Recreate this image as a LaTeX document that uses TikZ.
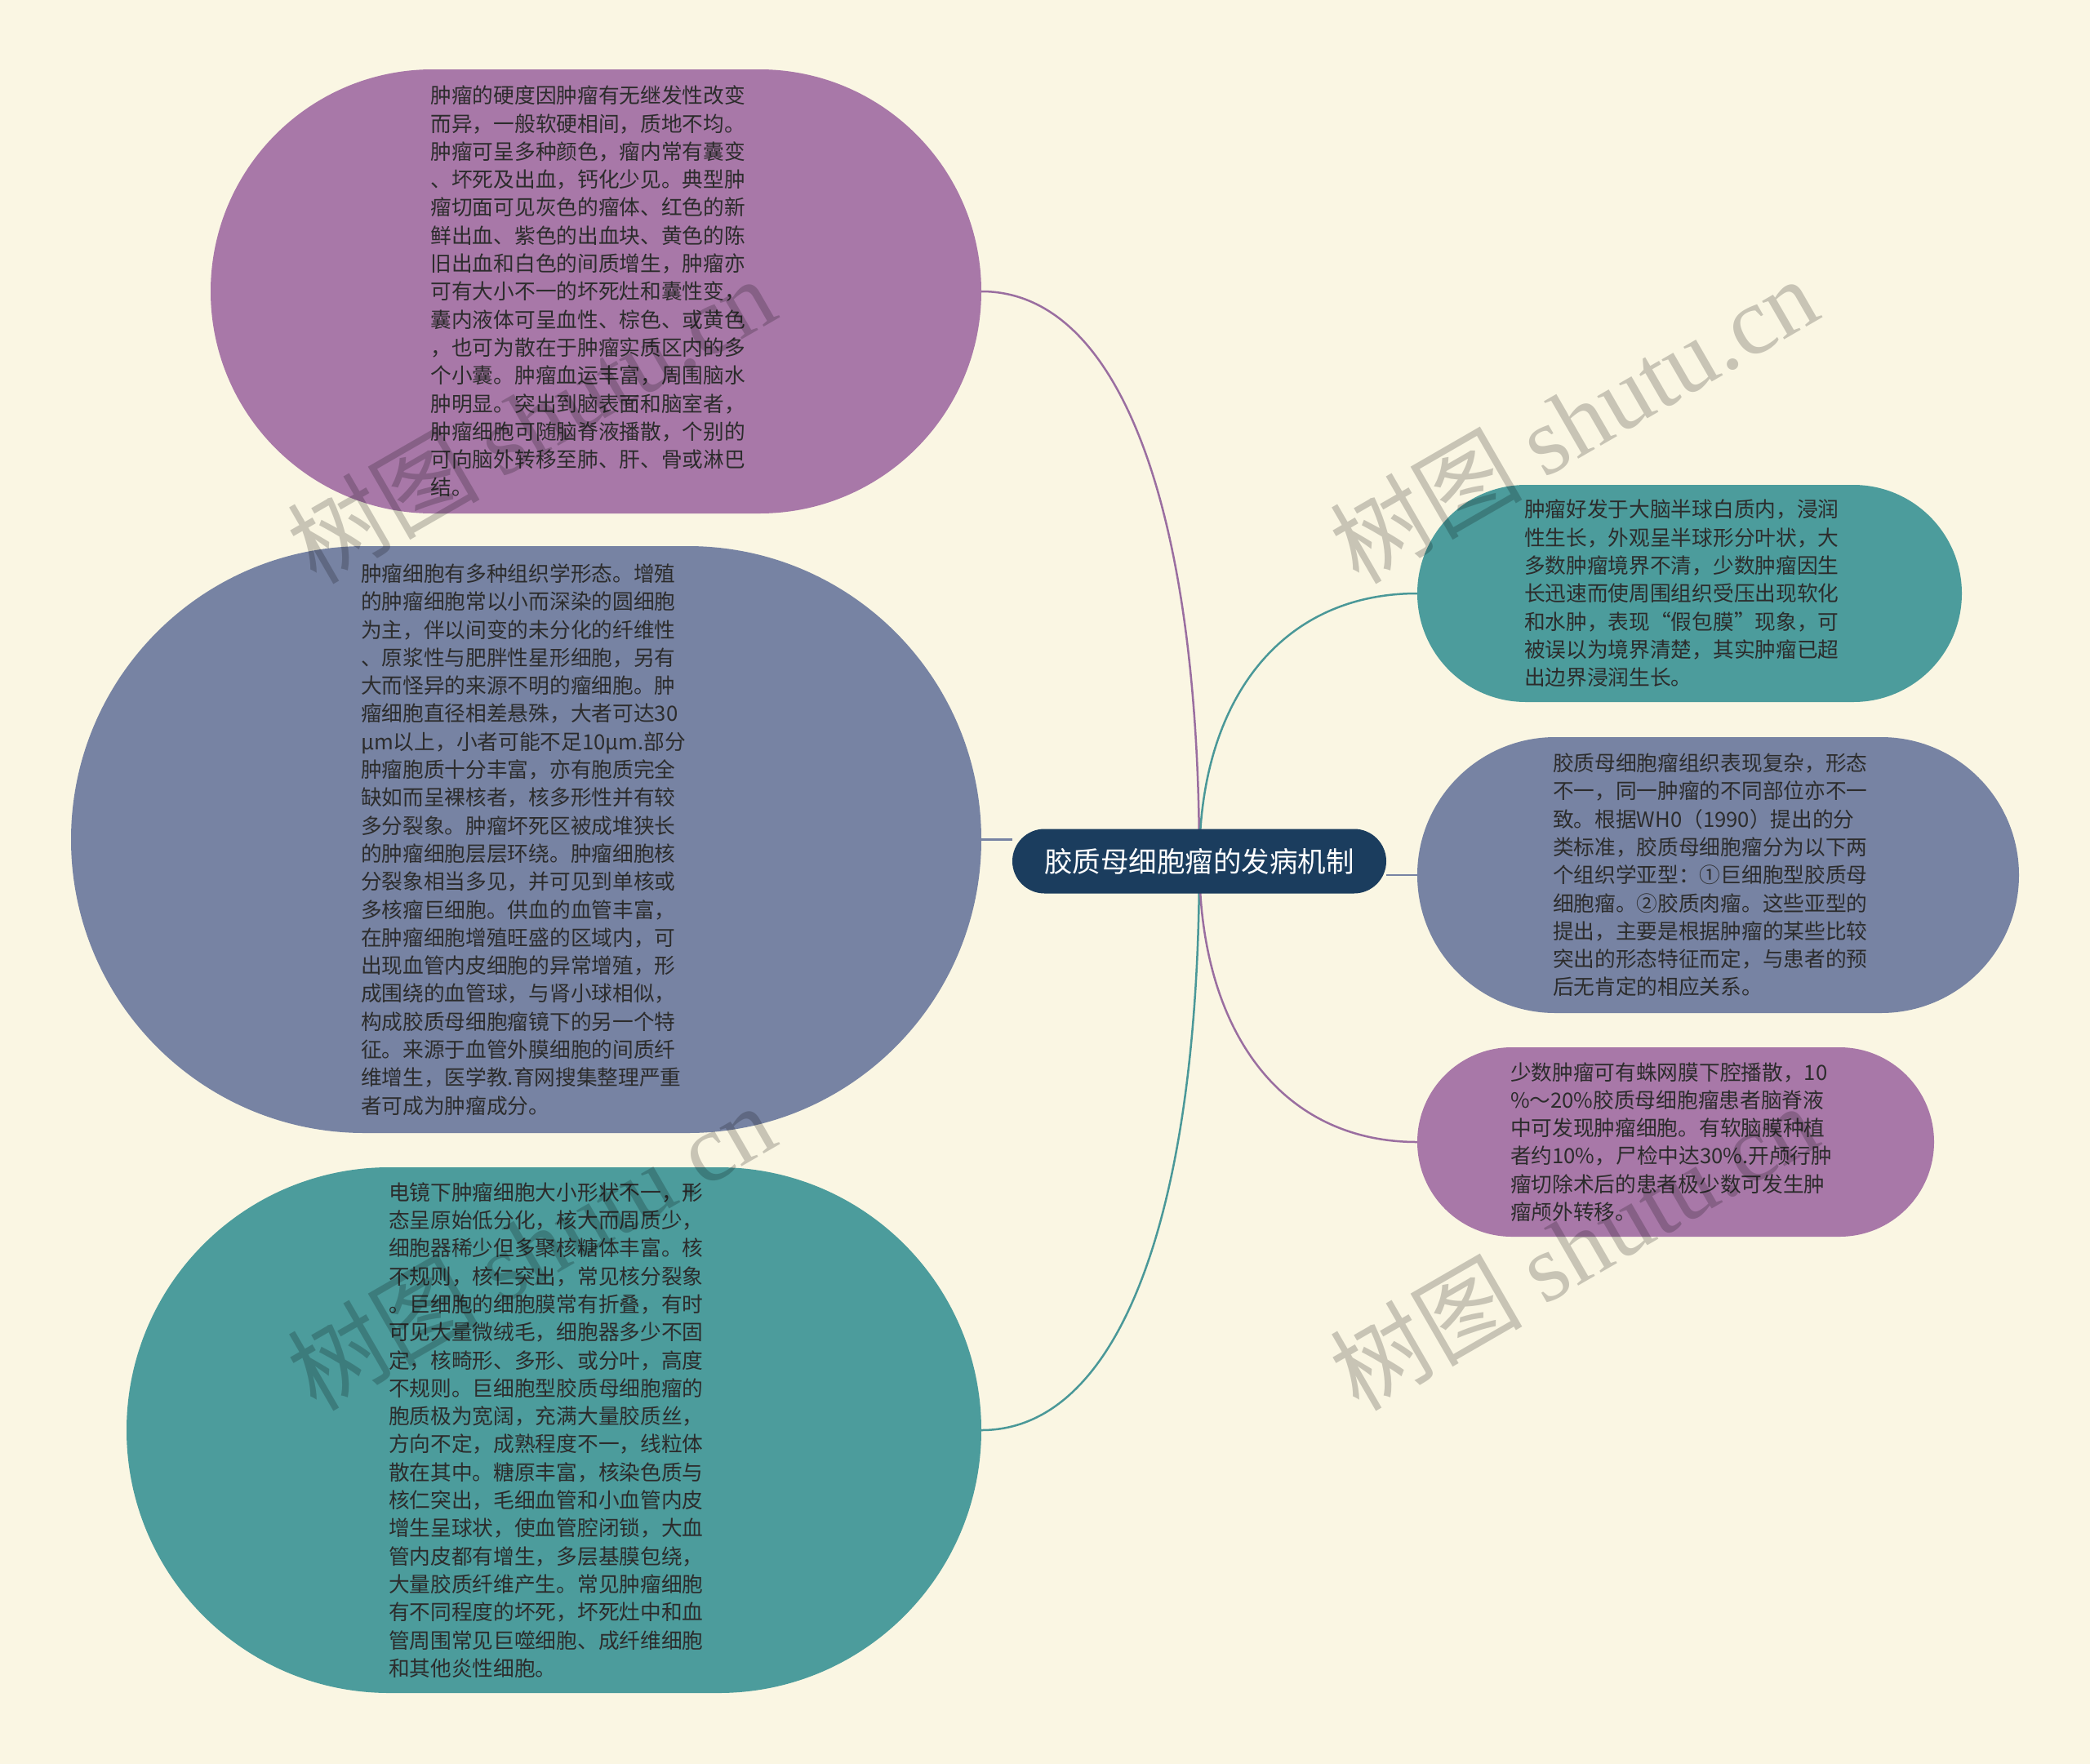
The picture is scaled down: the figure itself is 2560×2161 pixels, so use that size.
\documentclass[tikz,border=0pt]{standalone}
\usepackage{fontspec}
\setmainfont{Noto Sans CJK SC}
\newfontfamily\wmserif{Liberation Serif}
\usetikzlibrary{calc}
\definecolor{bgc}{HTML}{FAF6E3}
\definecolor{purp}{HTML}{A878A8}
\definecolor{slate}{HTML}{7783A3}
\definecolor{tealc}{HTML}{4C9C9C}
\definecolor{navy}{HTML}{1B3D5E}
\definecolor{txt}{HTML}{2C2C2C}
\definecolor{purpline}{HTML}{9A6EA0}
\definecolor{tealline}{HTML}{4A9898}
\pgfdeclarelayer{back}
\pgfdeclarelayer{mid}
\pgfsetlayers{back,mid,main}
\begin{document}
\begin{tikzpicture}[x=1pt,y=-1pt,
  bubble/.style={rectangle, inner sep=0pt, text width=405pt, align=left, text=txt,
    font=\fontsize{25.7}{34.3}\selectfont},
  conn/.style={line width=2.5pt},
  wm/.style={rotate=30, text=black, text opacity=0.2, inner sep=0pt,
    font=\fontsize{118}{118}\selectfont}]
\begin{pgfonlayer}{back}
\fill[bgc] (0,0) rectangle (2560,2161);
\end{pgfonlayer}
\useasboundingbox (0,0) rectangle (2560,2161);

\node[fill=navy, text=white, font=\fontsize{34.5}{38}\selectfont, minimum width=458pt,
  minimum height=79pt, rounded corners=39.5pt, inner sep=0pt] (c) at (1469,1055) {胶质母细胞瘤的发病机制};

\node[bubble, fill=purp, minimum width=944pt, minimum height=544pt, rounded corners=272pt] (n1) at (730,357) {肿瘤的硬度因肿瘤有无继发性改变\\
而异，一般软硬相间，质地不均。\\
肿瘤可呈多种颜色，瘤内常有囊变\\
、坏死及出血，钙化少见。典型肿\\
瘤切面可见灰色的瘤体、红色的新\\
鲜出血、紫色的出血块、黄色的陈\\
旧出血和白色的间质增生，肿瘤亦\\
可有大小不一的坏死灶和囊性变，\\
囊内液体可呈血性、棕色、或黄色\\
，也可为散在于肿瘤实质区内的多\\
个小囊。肿瘤血运丰富，周围脑水\\
肿明显。突出到脑表面和脑室者，\\
肿瘤细胞可随脑脊液播散，个别的\\
可向脑外转移至肺、肝、骨或淋巴\\
结。};

\node[bubble, fill=slate, minimum width=1115pt, minimum height=719pt, rounded corners=359.5pt] (n2) at (644.5,1028.5) {肿瘤细胞有多种组织学形态。增殖\\
的肿瘤细胞常以小而深染的圆细胞\\
为主，伴以间变的未分化的纤维性\\
、原浆性与肥胖性星形细胞，另有\\
大而怪异的来源不明的瘤细胞。肿\\
瘤细胞直径相差悬殊，大者可达30\\
μm以上，小者可能不足10μm.部分\\
肿瘤胞质十分丰富，亦有胞质完全\\
缺如而呈裸核者，核多形性并有较\\
多分裂象。肿瘤坏死区被成堆狭长\\
的肿瘤细胞层层环绕。肿瘤细胞核\\
分裂象相当多见，并可见到单核或\\
多核瘤巨细胞。供血的血管丰富，\\
在肿瘤细胞增殖旺盛的区域内，可\\
出现血管内皮细胞的异常增殖，形\\
成围绕的血管球，与肾小球相似，\\
构成胶质母细胞瘤镜下的另一个特\\
征。来源于血管外膜细胞的间质纤\\
维增生，医学教.育网搜集整理严重\\
者可成为肿瘤成分。};

\node[bubble, fill=tealc, minimum width=1047pt, minimum height=644pt, rounded corners=322pt] (n3) at (678.5,1752) {电镜下肿瘤细胞大小形状不一，形\\
态呈原始低分化，核大而周质少，\\
细胞器稀少但多聚核糖体丰富。核\\
不规则，核仁突出，常见核分裂象\\
。巨细胞的细胞膜常有折叠，有时\\
可见大量微绒毛，细胞器多少不固\\
定，核畸形、多形、或分叶，高度\\
不规则。巨细胞型胶质母细胞瘤的\\
胞质极为宽阔，充满大量胶质丝，\\
方向不定，成熟程度不一，线粒体\\
散在其中。糖原丰富，核染色质与\\
核仁突出，毛细血管和小血管内皮\\
增生呈球状，使血管腔闭锁，大血\\
管内皮都有增生，多层基膜包绕，\\
大量胶质纤维产生。常见肿瘤细胞\\
有不同程度的坏死，坏死灶中和血\\
管周围常见巨噬细胞、成纤维细胞\\
和其他炎性细胞。};

\node[bubble, fill=tealc, minimum width=667pt, minimum height=266pt, rounded corners=133pt] (n4) at (2069.5,727) {肿瘤好发于大脑半球白质内，浸润\\
性生长，外观呈半球形分叶状，大\\
多数肿瘤境界不清，少数肿瘤因生\\
长迅速而使周围组织受压出现软化\\
和水肿，表现“假包膜”现象，可\\
被误以为境界清楚，其实肿瘤已超\\
出边界浸润生长。};

\node[bubble, fill=slate, minimum width=737pt, minimum height=338pt, rounded corners=169pt] (n5) at (2104.5,1072) {胶质母细胞瘤组织表现复杂，形态\\
不一，同一肿瘤的不同部位亦不一\\
致。根据WH0（1990）提出的分\\
类标准，胶质母细胞瘤分为以下两\\
个组织学亚型：①巨细胞型胶质母\\
细胞瘤。②胶质肉瘤。这些亚型的\\
提出，主要是根据肿瘤的某些比较\\
突出的形态特征而定，与患者的预\\
后无肯定的相应关系。};

\node[bubble, fill=purp, minimum width=633pt, minimum height=232pt, rounded corners=116pt] (n6) at (2052.5,1399) {少数肿瘤可有蛛网膜下腔播散，10\\
\%～20\%胶质母细胞瘤患者脑脊液\\
中可发现肿瘤细胞。有软脑膜种植\\
者约10\%，尸检中达30\%.开颅行肿\\
瘤切除术后的患者极少数可发生肿\\
瘤颅外转移。};

\begin{pgfonlayer}{mid}
\draw[conn, draw=purpline] (c.center) .. controls +(0,-430) and +(170,0) .. (n1.east);
\draw[conn, draw=tealline] (c.center) .. controls +(0,430) and +(170,0) .. (n3.east);
\draw[conn, draw=slate] (n2.east) -- (n2.east -| c.west);
\draw[conn, draw=tealline] (c.center) .. controls +(0,-200) and +(-165,0) .. (n4.west);
\draw[conn, draw=slate] (n5.west -| c.east) -- (n5.west);
\draw[conn, draw=purpline] (c.center) .. controls +(0,210) and +(-165,0) .. (n6.west);
\end{pgfonlayer}

\node[wm] (w1) at (650,514) {树图 {\wmserif shutu.cn}};
\node[wm] (w2) at (1927,514) {树图 {\wmserif shutu.cn}};
\node[wm] (w3) at (650,1527) {树图 {\wmserif shutu.cn}};
\node[wm] (w4) at (1927,1527) {树图 {\wmserif shutu.cn}};
\end{tikzpicture}
\end{document}
